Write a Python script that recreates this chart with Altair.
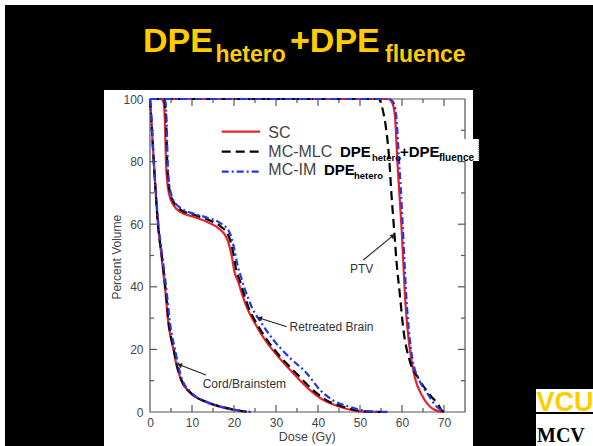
import math
import altair as alt
import pandas as pd

FONT = "Liberation Sans"

# ---------------- data ----------------
series_names = ["SC", "MC-MLC", "MC-IM"]
structure_names = ["Cord/Brainstem", "Retreated Brain", "PTV"]

x_label_values = [0, 10, 20, 30, 40, 50, 60, 70]
y_label_values = [0, 20, 40, 60, 80, 100]
x_major_ticks = [10, 20, 30, 40, 50, 60, 70]
x_minor_ticks = [5, 15, 25, 35, 45, 55, 65]
y_major_ticks = [20, 40, 60, 80]
y_minor_ticks = [10, 30, 50, 70, 90]

# Cord/Brainstem
cord_sc_dose = [0, 0.3, 0.9, 1.9, 2.8, 3.7, 4.4, 4.9, 5.6, 6.2, 7.4, 9.7, 13.3, 18.0, 23.0]
cord_sc_vol = [100, 94, 80, 60, 49, 38, 28, 24, 19.8, 15.6, 10.2, 6.0, 3.2, 1.2, 0]
cord_mlc_dose = [0, 0.3, 0.9, 1.9, 2.9, 3.8, 4.5, 5.0, 5.7, 6.3, 7.5, 9.8, 13.5, 18.5, 23.5]
cord_mlc_vol = [100, 94, 80, 60, 49, 38, 28, 24, 19.8, 15.6, 10.2, 6.0, 3.2, 1.2, 0]
cord_im_dose = [0, 0.3, 0.9, 2.0, 3.0, 4.0, 4.8, 5.3, 6.0, 6.6, 7.7, 10.0, 13.6, 18.5, 24.0]
cord_im_vol = [100, 94, 80, 60, 49, 38, 28, 24, 19.8, 15.6, 10.2, 6.0, 3.2, 1.2, 0]

# Retreated Brain
brain_sc_dose = [0, 2.6, 3.2, 3.6, 3.8, 4.1, 4.6, 5.6, 7.1, 10.3, 13.5, 16.3, 18.3, 19.4, 20.2,
                 21.0, 21.6, 23.0, 25.0, 27.4, 30.5, 34.1, 38.1, 41.3, 45.2, 50.0, 55.0]
brain_sc_vol = [100, 100, 99, 90.6, 80, 73.6, 69.3, 66.1, 64.0, 62.4, 60.8, 58.7, 55.5, 50.2, 44.3,
                41.6, 39.0, 33.6, 28.3, 23.0, 17.7, 12.4, 7.0, 3.8, 1.7, 0.2, 0]
brain_mlc_dose = [0, 3.0, 3.5, 3.9, 4.1, 4.4, 4.9, 5.9, 7.4, 10.5, 13.7, 16.6, 18.7, 19.8, 20.6,
                  21.4, 22.0, 23.4, 25.4, 27.9, 31.0, 34.8, 38.8, 42.0, 46.0, 51.0, 56.0]
brain_mlc_vol = [100, 100, 99, 90.6, 80, 73.6, 69.5, 66.5, 64.5, 63.0, 61.5, 59.5, 56.3, 51.0, 45.0,
                 42.0, 39.3, 33.6, 28.3, 23.0, 17.7, 12.4, 7.0, 3.8, 1.7, 0.2, 0]
brain_im_dose = [0, 3.2, 3.7, 4.0, 4.2, 4.5, 5.0, 6.0, 7.5, 10.5, 13.8, 16.8, 18.9, 20.0, 20.9,
                 21.7, 22.4, 24.2, 26.6, 29.4, 33.0, 37.3, 40.5, 43.5, 47.5, 52.0, 57.0]
brain_im_vol = [100, 100, 99, 90.6, 80, 73.8, 69.8, 66.8, 65.0, 63.3, 62.0, 60.3, 57.5, 52.5, 46.5,
                43.0, 40.0, 33.6, 28.3, 23.0, 17.7, 12.4, 7.0, 3.8, 1.7, 0.2, 0]

# PTV
ptv_sc_dose = [0, 56.7, 57.6, 58.3, 58.9, 59.4, 59.9, 60.3, 60.7, 61.3, 62.3, 63.1, 64.7, 66.3, 67.9, 70.0]
ptv_sc_vol = [100, 100, 99, 94.9, 80, 69.3, 58.7, 48, 37.4, 26.7, 16.1, 10.8, 5.4, 2.2, 0.6, 0]
ptv_mlc_dose = [0, 54.4, 55.5, 56.2, 57.0, 57.5, 58.1, 58.7, 59.5, 60.3, 61.9, 63.9, 66.7, 68.7, 69.4, 70.0]
ptv_mlc_vol = [100, 100, 96, 90.6, 80, 69.3, 58.7, 48, 37.4, 26.7, 16.1, 10.8, 5.4, 2.2, 0.6, 0]
ptv_im_dose = [0, 57.0, 57.9, 58.6, 59.3, 59.8, 60.2, 60.6, 61.0, 61.6, 62.6, 63.9, 66.3, 67.9, 69.4, 70.0]
ptv_im_vol = [100, 100, 99, 94.9, 80, 69.3, 58.7, 48, 37.4, 26.7, 16.1, 10.8, 5.4, 2.2, 0.6, 0]

curves = {
    "SC": [(structure_names[0], cord_sc_dose, cord_sc_vol),
           (structure_names[1], brain_sc_dose, brain_sc_vol),
           (structure_names[2], ptv_sc_dose, ptv_sc_vol)],
    "MC-MLC": [(structure_names[0], cord_mlc_dose, cord_mlc_vol),
               (structure_names[1], brain_mlc_dose, brain_mlc_vol),
               (structure_names[2], ptv_mlc_dose, ptv_mlc_vol)],
    "MC-IM": [(structure_names[0], cord_im_dose, cord_im_vol),
              (structure_names[1], brain_im_dose, brain_im_vol),
              (structure_names[2], ptv_im_dose, ptv_im_vol)],
}

# ---------------- layout ----------------
X0, Y0 = 150, 99          # plot origin on the page
W, H = 315, 313           # plot size
XMAX, YMAX = 75, 100


def px(x):
    return x - X0


def py(y):
    return y - Y0


one = pd.DataFrame({"a": [0]})

xscale = alt.Scale(domain=[0, XMAX], nice=False, zero=False)
yscale = alt.Scale(domain=[0, YMAX], nice=False, zero=False)

xaxis = alt.Axis(values=x_label_values, title="Dose (Gy)", ticks=False, tickSize=0, domain=False,
                 grid=False, labelFont=FONT, labelFontSize=12, labelColor="#444", labelPadding=5,
                 labelFlush=False, labelOverlap=False, titleFont=FONT, titleFontSize=12.5,
                 titleFontWeight="normal", titleColor="#444", titleX=156.7, titleY=28,
                 titleBaseline="alphabetic", zindex=1)
yaxis = alt.Axis(values=y_label_values, title="Percent Volume", ticks=False, tickSize=0, domain=False,
                 grid=False, labelFont=FONT, labelFontSize=12, labelColor="#444", labelPadding=7,
                 labelFlush=False, labelOverlap=False, titleFont=FONT, titleFontSize=12,
                 titleFontWeight="normal", titleColor="#444", titleX=-33.3, titleY=157.7,
                 titleAngle=270, titleBaseline="middle", titleAlign="center", zindex=1)


def rect(x1, y1, x2, y2, **kw):
    return alt.Chart(one).mark_rect(**kw).encode(
        x=alt.value(px(x1)), x2=alt.value(px(x2)), y=alt.value(py(y1)), y2=alt.value(py(y2)))


def text(s, x, y, size, color, weight="normal", font=FONT, align="left", baseline="alphabetic"):
    return alt.Chart(one).mark_text(text=s, font=font, fontSize=size, fontWeight=weight, color=color,
                                    align=align, baseline=baseline).encode(
        x=alt.value(px(x)), y=alt.value(py(y)))


def seg(x1, y1, x2, y2, color, width=1, dash=None):
    kw = dict(color=color, strokeWidth=width)
    if dash:
        kw["strokeDash"] = dash
    return alt.Chart(one).mark_rule(**kw).encode(
        x=alt.value(px(x1)), x2=alt.value(px(x2)), y=alt.value(py(y1)), y2=alt.value(py(y2)))


def arrow(x1, y1, x2, y2):
    dx, dy = x2 - x1, y2 - y1
    L = math.hypot(dx, dy)
    ang = math.degrees(math.atan2(dx, -dy)) % 360
    cx, cy = x2 - 2.5 * dx / L, y2 - 2.5 * dy / L
    line = seg(x1, y1, x2 - 3 * dx / L, y2 - 3 * dy / L, "#222", 1.1)
    head = alt.Chart(one).mark_point(shape="triangle-up", filled=True, size=30, angle=ang,
                                     color="#222", opacity=1).encode(
        x=alt.value(px(cx)), y=alt.value(py(cy)))
    return [line, head]


layers = []
# slide background + white panel
layers.append(rect(5, 5, 593, 446, color="black"))
layers.append(rect(104, 90, 473, 446, color="white"))

# frame
layers.append(alt.Chart(one).mark_rect(filled=False, stroke="#555", strokeWidth=1.2).encode(
    x=alt.value(0), x2=alt.value(W), y=alt.value(0), y2=alt.value(H)))

# inward ticks (lengths converted from pixels to data units)
maj_v, min_v = 7 * YMAX / H, 4 * YMAX / H
maj_h, min_h = 7 * XMAX / W, 4 * XMAX / W
rows = []
for v, lv in [(t, maj_v) for t in x_major_ticks] + [(t, min_v) for t in x_minor_ticks]:
    rows.append(dict(x=v, x2=v, y=0, y2=lv))
    rows.append(dict(x=v, x2=v, y=YMAX, y2=YMAX - lv))
for v, lh in [(t, maj_h) for t in y_major_ticks] + [(t, min_h) for t in y_minor_ticks]:
    rows.append(dict(x=0, x2=lh, y=v, y2=v))
    rows.append(dict(x=XMAX, x2=XMAX - lh, y=v, y2=v))
ticks_df = pd.DataFrame(rows)
layers.append(alt.Chart(ticks_df).mark_rule(color="#555", strokeWidth=1.2).encode(
    x=alt.X("x:Q", scale=xscale, axis=xaxis), x2="x2:Q",
    y=alt.Y("y:Q", scale=yscale, axis=yaxis), y2="y2:Q"))

# curves
styles = {
    "SC": dict(color="#e8222a", strokeWidth=2.2),
    "MC-MLC": dict(color="#000000", strokeWidth=2.2, strokeDash=[9, 5]),
    "MC-IM": dict(color="#2238e6", strokeWidth=2.2, strokeDash=[7, 3, 2, 3]),
}
for name in series_names:
    rows = []
    for struct, d, v in curves[name]:
        for a, b in zip(d, v):
            rows.append(dict(dose=a, vol=b, structure=struct, series=name))
    df = pd.DataFrame(rows)
    layers.append(alt.Chart(df).mark_line(interpolate="monotone", **styles[name]).encode(
        x=alt.X("dose:Q", scale=xscale, axis=xaxis),
        y=alt.Y("vol:Q", scale=yscale, axis=yaxis),
        detail="structure:N"))

# annotations
layers.append(text("PTV", 350, 273, 12, "#333"))
layers.append(text("Retreated Brain", 289.5, 330.7, 12, "#333"))
layers.append(text("Cord/Brainstem", 202.7, 388.3, 12, "#333"))
layers += arrow(363.3, 260, 395, 234)
layers += arrow(286.7, 326.7, 257.3, 317.3)
layers += arrow(206, 375, 177.3, 364)

# legend
leg_y = [131.7, 151.7, 171.7]
leg_base = [138.3, 156.7, 175.0]
for i, name in enumerate(series_names):
    st = styles[name]
    layers.append(seg(221.7, leg_y[i], 260, leg_y[i], st["color"], st["strokeWidth"], st.get("strokeDash")))
    layers.append(text(name, 268.3, leg_base[i], 16, "#444"))

# pasted-on overlay box
layers.append(rect(440, 139, 479, 161, color="white"))
layers.append(seg(478.5, 139, 478.5, 161, "#999", 1.5, [1, 1]))
layers.append(text("DPE", 340, 156.7, 15, "black", "bold"))
layers.append(text("hetero", 372, 160.5, 9.5, "black", "bold"))
layers.append(text("+DPE", 400, 156.7, 15, "black", "bold"))
layers.append(text("fluence", 439, 160.5, 10, "black", "bold"))
layers.append(text("DPE", 324, 175, 15, "black", "bold"))
layers.append(text("hetero", 354, 178.5, 9.5, "black", "bold"))

# slide title
GOLD = "#FFCC00"
layers.append(text("DPE", 143, 51.7, 34, GOLD, "bold"))
layers.append(text("hetero", 215.5, 61.7, 23, GOLD, "bold"))
layers.append(text("+DPE", 290, 51.7, 34, GOLD, "bold"))
layers.append(text("fluence", 385, 61.7, 23, GOLD, "bold"))

# logo
layers.append(rect(536, 389, 593, 446, color="white"))
layers.append(text("VCU", 536.5, 411, 27, GOLD, "bold"))
layers.append(rect(536, 412, 593, 414, color="black"))
layers.append(text("MCV", 537, 442, 20, "black", "bold", font="Liberation Serif"))

chart = alt.layer(*layers).properties(
    width=W, height=H,
    autosize=alt.AutoSizeParams(type="none"),
    padding={"left": X0, "top": Y0, "right": 593 - X0 - W, "bottom": 446 - Y0 - H},
    background="white",
).configure_view(stroke=None)

chart.save("out.html", embed_options={"renderer": "svg", "actions": False})
